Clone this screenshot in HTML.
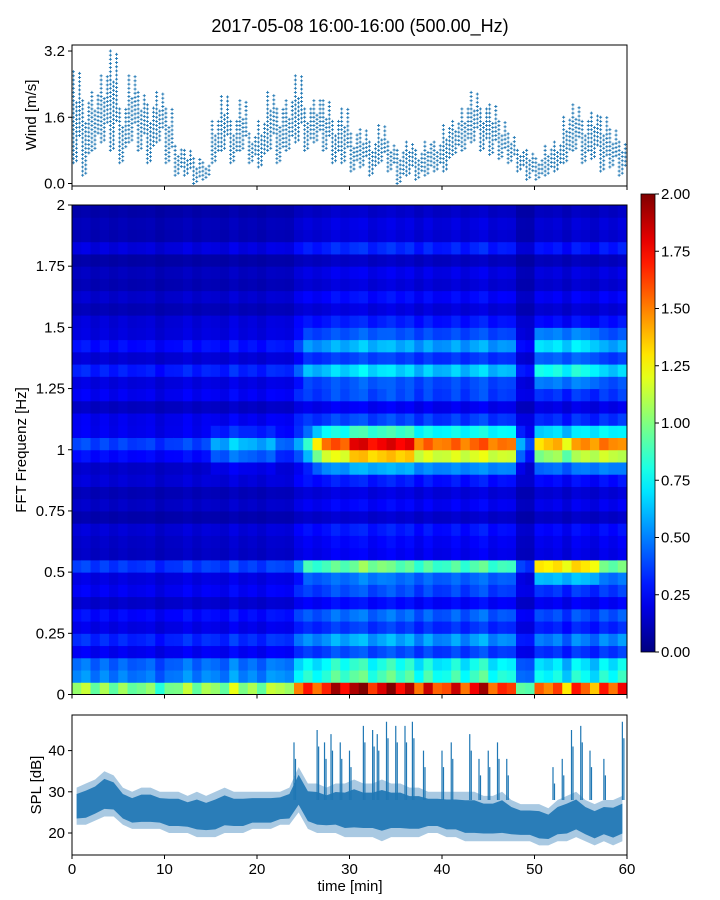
<!DOCTYPE html>
<html><head><meta charset="utf-8"><style>
html,body{margin:0;padding:0;background:#fff;width:720px;height:900px;overflow:hidden}
svg{display:block;font-family:"Liberation Sans",sans-serif}
</style></head><body>
<svg id="chart" width="720" height="900" viewBox="0 0 720 900">
<text x="360" y="32" text-anchor="middle" font-size="18" fill="#000">2017-05-08 16:00-16:00 (500.00_Hz)</text>
<g id="wind"></g>
<g id="spec"></g>
<g id="cbar"></g>
<g id="spl"></g>
<text x="350" y="891" text-anchor="middle" font-size="15">time [min]</text>
<text transform="translate(36,115) rotate(-90)" text-anchor="middle" font-size="15">Wind [m/s]</text>
<text transform="translate(26,450) rotate(-90)" text-anchor="middle" font-size="15">FFT Frequenz [Hz]</text>
<text transform="translate(41,785) rotate(-90)" text-anchor="middle" font-size="15">SPL [dB]</text>
</svg>
<script>
const windLo=[0.5,0.2,0.8,1.0,0.8,0.5,1.0,0.8,0.5,1.0,0.5,0.2,0.2,0.0,0.1,0.5,0.8,0.5,0.8,0.5,0.4,0.8,0.5,0.8,1.0,0.8,1.0,0.8,0.5,0.5,0.3,0.4,0.2,0.5,0.3,0.0,0.2,0.1,0.2,0.3,0.3,0.7,0.8,1.0,0.8,0.7,0.6,0.5,0.3,0.1,0.1,0.2,0.3,0.5,0.8,0.5,0.6,0.3,0.4,0.2];
const windHi=[2.7,2.0,2.2,2.6,3.2,1.8,2.6,2.2,1.9,2.2,1.8,0.9,0.8,0.6,0.5,1.5,2.1,1.5,2.0,1.2,1.5,2.2,1.8,2.0,2.6,1.8,2.0,2.0,1.5,1.8,1.2,1.3,1.0,1.4,1.0,0.8,1.0,0.8,1.0,1.0,1.4,1.5,1.8,2.2,1.8,1.9,1.5,1.2,0.8,0.8,0.6,0.9,1.0,1.6,1.9,1.5,1.7,1.6,1.3,1.0];
const windTicks=[0.0,1.6,3.2];
const freqTicks=[0,0.25,0.5,0.75,1,1.25,1.5,1.75,2];
const freqTickLabels=["0","0.25","0.5","0.75","1","1.25","1.5","1.75","2"];
const activity=[0.8,0.8,0.8,0.8,0.75,0.75,0.8,0.75,0.7,0.7,0.75,0.8,0.8,0.8,0.8,0.8,0.8,0.85,0.8,0.8,0.8,0.8,0.85,0.85,1.1,1.2,1.3,1.3,1.3,1.4,1.4,1.4,1.4,1.4,1.4,1.4,1.4,1.3,1.3,1.2,1.3,1.3,1.3,1.3,1.3,1.3,1.3,1.2,0.8,0.7,1.1,1.2,1.2,1.1,1.2,1.2,1.1,1.2,1.3,1.3];
const baseFreq=[1.3,0.75,0.5,0.38,0.33,0.3,0.3,0.27,0.24,0.24,0.35,0.22,0.18,0.17,0.16,0.16,0.16,0.18,0.22,0.28,0.38,0.3,0.22,0.22,0.26,0.26,0.28,0.26,0.28,0.24,0.22,0.18,0.16,0.15,0.14,0.14,0.18,0.15,0.14,0.14];
const rowTexture=[1.0,0.85,1.15,0.75,1.25,0.85,1.1,0.7,1.2,0.9,1.15,0.75,1.0,1.25,0.7,1.1,0.85,1.2,0.75,1.0,1.1,0.85,1.25,0.75,1.1,0.85,1.3,0.75,1.15,0.9,1.0,0.75,1.2,0.85,1.1,0.7,1.3,0.85,1.0,0.75];
const colTexture=[1.0,1.1,0.9,1.05,0.95,1.1,0.9,1.0,1.15,0.9,1.0,0.95,1.1,0.9,1.05,1.0,0.9,1.1,0.95,1.05,0.9,1.1,1.0,0.95,1.05,1.1,0.9,1.0,1.15,0.95,1.05,1.1,0.9,1.0,1.1,0.95,1.05,0.9,1.1,1.0,0.95,1.1,0.9,1.05,1.15,0.9,1.0,1.05,0.9,1.0,1.1,0.95,1.05,0.9,1.1,1.0,0.95,1.1,0.9,1.05];
const band1Hz=[0.05,0.05,0.05,0.05,0.05,0.05,0.05,0.05,0.05,0.05,0.05,0.05,0.05,0.05,0.05,0.25,0.25,0.3,0.3,0.25,0.25,0.25,0.1,0.1,0.1,0.3,0.8,1.0,1.0,1.0,1.2,1.2,1.2,1.2,1.2,1.2,1.2,1.0,1.0,1.0,1.0,1.0,1.0,1.0,1.0,1.0,1.0,1.0,0.3,0.1,0.8,0.9,0.9,0.8,0.9,1.0,1.0,1.0,1.0,0.9];
const band05Hz=[0.05,0.05,0.05,0.05,0.05,0.05,0.05,0.05,0.05,0.05,0.05,0.05,0.05,0.05,0.05,0.05,0.05,0.05,0.05,0.05,0.05,0.05,0.05,0.05,0.05,0.4,0.4,0.4,0.4,0.4,0.4,0.5,0.5,0.5,0.4,0.4,0.4,0.4,0.4,0.4,0.4,0.4,0.4,0.4,0.4,0.4,0.4,0.4,0.1,0.05,0.9,0.9,0.9,0.9,0.9,0.9,0.9,0.5,0.5,0.5];
const cbarTicks=[0,0.25,0.5,0.75,1,1.25,1.5,1.75,2];
const splLo=[22,22,23,24,24,22,21,21,21,21,20,20,20,19,19,19,20,20,20,21,21,21,22,22,25,21,20,20,20,19,19,19,19,18,19,19,19,19,20,20,19,19,18,18,18,18,18,18,18,18,17,17,18,18,19,18,17,18,17,18];
const splHi=[31,32,33,35,34,31,30,31,31,30,30,30,29,30,29,30,31,30,30,30,30,30,30,31,36,32,32,31,32,32,33,32,32,33,32,32,31,31,30,30,30,30,30,30,29,29,30,28,27,27,27,26,28,29,30,28,27,28,28,29];
const spikeTimes=[24,26.5,27.3,28,29,30,31.5,32.5,33,34,35,36,36.8,38,40,41,43,44,45,46,47,52,53,54,55,56,57.5,59.5];
const spikePeaks=[42,45,42,44,42,40,46,45,44,47,46,46,47,40,40,42,44,38,40,42,38,36,38,45,46,40,38,47];
const splTicks=[20,30,40];
const xTicks=[0,10,20,30,40,50,60];

const NS="http://www.w3.org/2000/svg";
function mk(parent,tag,attrs){const e=document.createElementNS(NS,tag);for(const k in attrs)e.setAttribute(k,attrs[k]);parent.appendChild(e);return e;}
const X0=72,X1=627;
const xs=t=>X0+(t/60)*(X1-X0);
const wy=v=>183.5-v*41.4;
const fy=f=>694.5-(f/2)*489.5;
const cy=v=>652-(v/2)*458;
const sy=d=>833-(d-20)*4.12;
function jet(v){v=Math.max(0,Math.min(1,v));
 const r=Math.max(0,Math.min(1,1.5-Math.abs(4*v-3))),g=Math.max(0,Math.min(1,1.5-Math.abs(4*v-2))),b=Math.max(0,Math.min(1,1.5-Math.abs(4*v-1)));
 return `rgb(${Math.round(r*255)},${Math.round(g*255)},${Math.round(b*255)})`;}

// WIND
const W=document.getElementById('wind');
for(let m=0;m<60;m++){for(let k=0;k<3;k++){
 const t=m+k/3+0.15;
 const lo=windLo[m],hi=windHi[m],sp=hi-lo;
 const a=k===2?lo+0.3*sp:lo, b=k===1?lo+0.7*sp:hi;
 for(let v=a+(k%2)*0.05;v<=b+1e-6;v+=0.1){
  const p=mk(W,'path',{d:`M${xs(t)-1.5},${wy(v)}h3M${xs(t)},${wy(v)-1.5}v3`,stroke:'#1f77b4','stroke-width':0.9});
  
  
 }}}
mk(W,'rect',{x:X0,y:45,width:X1-X0,height:141,fill:'none',stroke:'#000','stroke-width':1});
windTicks.forEach(v=>{mk(W,'line',{x1:X0-4,x2:X0,y1:wy(v),y2:wy(v),stroke:'#000'});
 const t=mk(W,'text',{x:X0-7,y:wy(v)+5,'text-anchor':'end','font-size':15});t.textContent=v.toFixed(1);
 });
xTicks.forEach(v=>mk(W,'line',{x1:xs(v),x2:xs(v),y1:186,y2:190,stroke:'#000'}));

// SPECTROGRAM
const S=document.getElementById('spec');
const nR=baseFreq.length;
const w1=[0.4,0.8,0.9,0.5];
for(let m=0;m<60;m++){for(let r=0;r<nR;r++){
 let v=baseFreq[r]*activity[m]*rowTexture[r]*colTexture[m];
 if(r>=18&&r<=21)v+=w1[r-18]*band1Hz[m]*rowTexture[r];
 if(r===9)v+=0.4*band05Hz[m];if(r===10)v+=0.9*band05Hz[m];
 if(r>=25&&r<=29)v+=0.3*band05Hz[m]*rowTexture[r];
 const f0=r*0.05,f1=(r+1)*0.05;
 const c=mk(S,'rect',{x:xs(m),y:fy(f1),width:xs(m+1)-xs(m)+0.5,height:fy(f0)-fy(f1)+0.5,fill:jet(v/2)});
 
 
}}
mk(S,'rect',{x:X0,y:205,width:X1-X0,height:489.5,fill:'none',stroke:'#000'});
freqTicks.forEach((v,i)=>{mk(S,'line',{x1:X0-4,x2:X0,y1:fy(v),y2:fy(v),stroke:'#000'});
 const t=mk(S,'text',{x:X0-7,y:fy(v)+5,'text-anchor':'end','font-size':15});t.textContent=freqTickLabels[i];
 });
xTicks.forEach(v=>mk(S,'line',{x1:xs(v),x2:xs(v),y1:694.5,y2:698.5,stroke:'#000'}));

// COLORBAR
const C=document.getElementById('cbar');
const defs=mk(C,'defs',{});const lg=mk(defs,'linearGradient',{id:'jetg',x1:0,y1:1,x2:0,y2:0});
for(let i=0;i<=20;i++)mk(lg,'stop',{offset:i/20,'stop-color':jet(i/20)});
mk(C,'rect',{x:641,y:194,width:14,height:458,fill:'url(#jetg)',stroke:'#000','stroke-width':0.8});
cbarTicks.forEach(v=>{mk(C,'line',{x1:655,x2:659,y1:cy(v),y2:cy(v),stroke:'#000'});
 const t=mk(C,'text',{x:661,y:cy(v)+5,'font-size':15});t.textContent=v.toFixed(2);
 });

// SPL
const P=document.getElementById('spl');
let up='',dn='',cu='',cd='';
for(let m=0;m<60;m++){const x=xs(m+0.5);up+=`${x},${sy(splHi[m])} `;
 const mid=(splLo[m]+splHi[m])/2,h=(splHi[m]-splLo[m])*0.33;cu+=`${x},${sy(mid+h)} `;}
for(let m=59;m>=0;m--){const x=xs(m+0.5);dn+=`${x},${sy(splLo[m])} `;
 const mid=(splLo[m]+splHi[m])/2,h=(splHi[m]-splLo[m])*0.33;cd+=`${x},${sy(mid-h)} `;}
const band=mk(P,'polygon',{points:up+dn,fill:'#a9c9e2'});

const core=mk(P,'polygon',{points:cu+cd,fill:'#2a7db8'});

spikeTimes.forEach((t,i)=>{const l=mk(P,'path',{d:`M${xs(t)},${sy(28)}L${xs(t)},${sy(spikePeaks[i])}M${xs(t)+1.5},${sy(28)}L${xs(t)+1.5},${sy(spikePeaks[i]-4)}`,stroke:'#1f77b4','stroke-width':1.2});
 });
mk(P,'rect',{x:X0,y:715,width:X1-X0,height:140,fill:'none',stroke:'#000'});
splTicks.forEach(v=>{mk(P,'line',{x1:X0-4,x2:X0,y1:sy(v),y2:sy(v),stroke:'#000'});
 const t=mk(P,'text',{x:X0-7,y:sy(v)+5,'text-anchor':'end','font-size':15});t.textContent=v;
 });
xTicks.forEach(v=>{mk(P,'line',{x1:xs(v),x2:xs(v),y1:855,y2:859,stroke:'#000'});
 const t=mk(P,'text',{x:xs(v),y:874,'text-anchor':'middle','font-size':15});t.textContent=v;
 });
</script>
</body></html>
